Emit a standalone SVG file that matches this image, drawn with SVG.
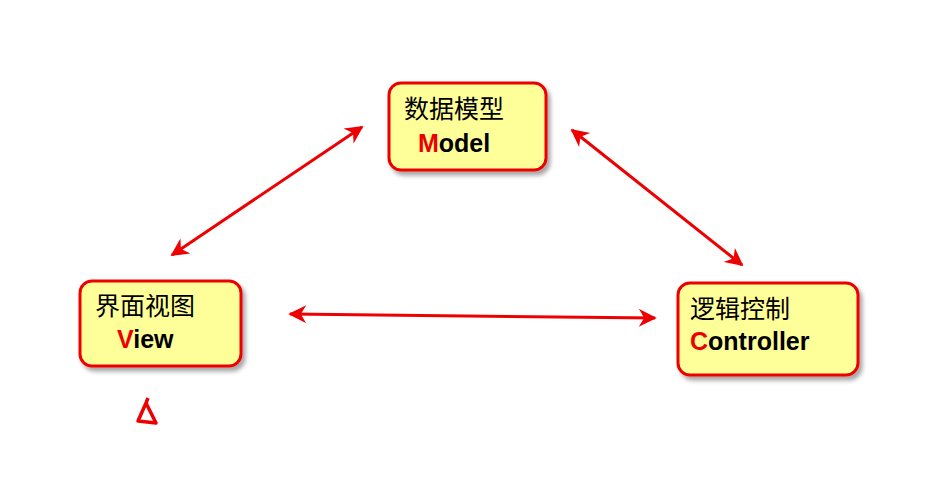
<svg xmlns="http://www.w3.org/2000/svg" width="944" height="490" viewBox="0 0 944 490">
<style>
.box{fill:#ffff99;stroke:#ee0000;stroke-width:3}
.cn{font-family:"Noto Sans CJK SC",sans-serif;font-size:25px;fill:#000}
.en{font-family:"Liberation Sans",Arial,sans-serif;font-size:25px;font-weight:bold;fill:#000}
.r{fill:#ee0000}
.ln{stroke:#ee0000;stroke-width:3;fill:none;marker-start:url(#a);marker-end:url(#a)}
</style>
<defs>
<marker id="a" viewBox="0 0 10 10" refX="9" refY="5" markerWidth="10" markerHeight="6" orient="auto-start-reverse" markerUnits="strokeWidth"><path d="M0,0 L10,5 L0,10 L3,5 z" fill="#ee0000"/></marker>
<filter id="s" x="-10%" y="-10%" width="130%" height="130%"><feDropShadow dx="3" dy="4" stdDeviation="2" flood-color="#000" flood-opacity="0.35"/></filter>
</defs>
<rect width="944" height="490" fill="#fff"/>
<g id="connectors">
<line class="ln" x1="362" y1="127" x2="172" y2="255"/>
<line class="ln" x1="572" y1="130" x2="742" y2="265"/>
<line class="ln" x1="290" y1="314" x2="655" y2="318"/>
</g>
<g id="model">
<rect class="box" x="389" y="83" width="157" height="87" rx="12" filter="url(#s)"/>
<text class="cn" x="404" y="118">数据模型</text>
<text class="en" x="418" y="152"><tspan class="r">M</tspan>odel</text>
</g>
<g id="view">
<rect class="box" x="80" y="281" width="161" height="85" rx="12" filter="url(#s)"/>
<text class="cn" x="95" y="315">界面视图</text>
<text class="en" x="117" y="348"><tspan class="r">V</tspan>iew</text>
</g>
<g id="controller">
<rect class="box" x="678" y="283" width="180" height="92" rx="12" filter="url(#s)"/>
<text class="cn" x="690" y="318">逻辑控制</text>
<text class="en" x="690" y="350"><tspan class="r">C</tspan>ontroller</text>
</g>
<path d="M146,403 L138,421 L156,423 Z M146,403 L148,398" fill="none" stroke="#ee0000" stroke-width="3.5" stroke-linejoin="round"/>
</svg>
